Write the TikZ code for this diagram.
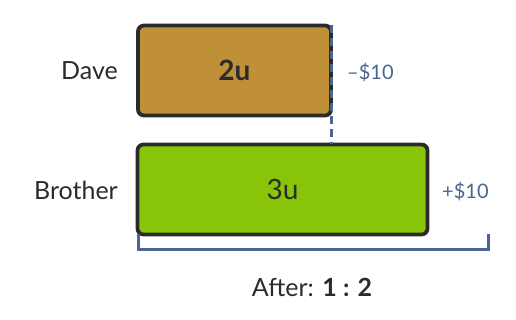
\documentclass[tikz,border=0pt]{standalone}
\usepackage{fontspec}
\setmainfont{Lato}
\usepackage{tikz}
\usetikzlibrary{positioning,calc}

\definecolor{daveGold}{HTML}{C09038}
\definecolor{broGreen}{HTML}{88C408}
\definecolor{inkDark}{HTML}{2B2B2B}
\definecolor{slate}{HTML}{4A6690}

\begin{document}
\begin{tikzpicture}[
  x=1pt, y=-1pt,
  unitbox/.style={draw=inkDark, line width=3.8pt, rounded corners=6pt,
                  minimum height=90pt, inner sep=0pt,
                  font=\fontsize{28}{32}\selectfont, text=inkDark},
  who/.style={font=\fontsize{25}{29}\selectfont, text=inkDark, inner sep=0pt},
  money/.style={font=\fontsize{20}{24}\selectfont, text=slate, inner sep=0pt},
  guide/.style={slate, line width=3pt, dash pattern=on 8pt off 5pt},
  brace/.style={slate, line width=3pt},
]
\useasboundingbox (0,0) rectangle (516,320);

% the two bars
\node[unitbox, fill=daveGold, minimum width=193pt] (dave) at (234.5,70.5)
  {\bfseries 2u};
\node[unitbox, fill=broGreen, minimum width=290pt] (bro) at (282.5,189.5)
  {3u};

% names on the left
\node[who, anchor=east] (daveName) at (118,71) {Dave};
\node[who, anchor=east] (broName)  at (118,190) {Brother};

% transfer amounts
\node[money, anchor=west] (loss) at (347,72)  {–\$10};
\node[money, anchor=west] (gain) at (442,191) {+\$10};

% dashed guide at the end of Dave's bar
\coordinate (guideTop) at (331,25);
\coordinate (guideBot) at (331,144);
\draw[guide] (guideTop) -- (guideBot);

% bracket under the brother's bar
\coordinate (brL) at (138,234);
\coordinate (brR) at (488,234);
\draw[brace] (brL) -- ++(0,15) -| (brR);

\node[font=\fontsize{25}{29}\selectfont, text=inkDark] (ratio) at (312,287)
  {After: \textbf{1 : 2}};
\end{tikzpicture}
\end{document}
